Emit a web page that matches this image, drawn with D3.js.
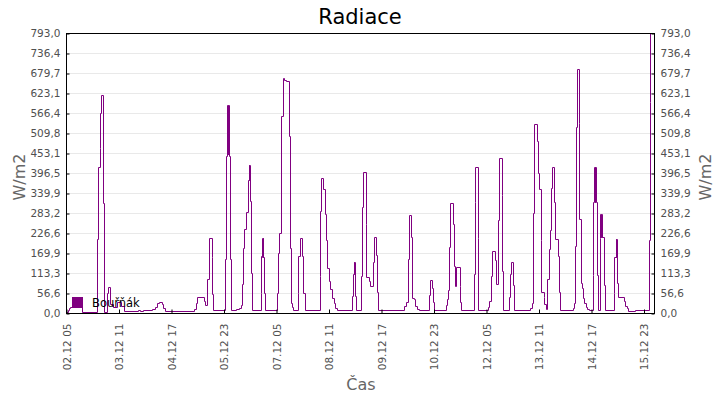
<!DOCTYPE html>
<html><head><meta charset="utf-8">
<script src="https://cdn.jsdelivr.net/npm/d3@7"></script>
<style>body{margin:0;background:#fff} svg{display:block}</style>
</head><body><svg id="c" width="720" height="400"></svg>
<script>
const title = "Radiace";
const yTitle = "W/m2";
const xTitle = "Čas";
const seriesName = "Bouřňák";
const yTickValues = [0, 56.6, 113.3, 169.9, 226.6, 283.2, 339.9, 396.5, 453.1, 509.8, 566.4, 623.1, 679.7, 736.4, 793.0];
const xTickHours = [0, 30, 60, 90, 120, 150, 180, 210, 240, 270, 300, 330];

// hours since 02.12 05:00 and radiation (W/m2), value holds until next sample
const hours = [
0,0.9,1.5,2.3,9.3,17.5,18.1,19.3,19.6,20.2,21.4,21.9,23.3,24.2,25.4,26.9,29.1,31.4,33.4,41.1,42.3,44,49.1,50.9,52,53.1,54.7,55.6,56.6,
72.9,74,74.9,79.1,79.7,80.6,81.7,83.3,83.6,84.2,91.0,91.4,92.0,92.2,92.35,92.5,92.65,92.8,92.95,93.1,93.7,94.1,
97.1,98.9,100.2,100.7,101.3,101.9,103.0,103.8,104.4,104.55,104.7,105.1,105.7,106.1,
111.3,111.4,112.0,112.15,112.3,112.45,112.6,112.75,113.3,113.9,
120.7,121.3,121.9,123.0,123.8,124.7,125.7,127.3,127.8,128.4,129.1,129.9,
132.4,132.7,133.7,135.0,135.6,136.4,
145.0,145.3,145.9,147.0,147.8,148.6,149.3,150.3,151.1,152,152.9,153.7,154.7,
163.3,163.8,164.3,164.45,164.6,164.9,165.7,
168.7,169.3,169.9,171.3,171.7,173.0,173.7,175.3,175.8,177.0,177.5,178.1,
193.1,194.0,195.3,195.8,197.0,197.5,198.9,199.6,200.6,201.9,
207.3,207.8,209.0,209.5,210.1,
217.1,217.7,218.1,218.9,219.6,221.0,221.5,222.1,223.0,225.0,225.4,225.7,
233.0,233.5,233.9,235.3,235.7,
241.1,241.9,242.9,243.6,245.0,245.5,247.0,247.6,248.9,249.3,249.9,
253.3,253.7,254.1,255.3,255.8,
265.1,266.1,267.0,267.6,269.0,269.5,270.3,271.3,271.7,272.9,273.4,274.0,
275.1,275.8,276.7,277.1,277.7,279.1,279.7,280.9,281.5,282.1,
289.5,290.3,290.9,291.3,291.8,292.9,293.4,294.0,294.7,295.3,296.0,296.9,297.7,298.9,
301.0,301.3,301.9,302.05,302.2,302.35,302.5,302.65,303.3,303.8,
304.9,305.4,305.55,305.7,305.85,306.0,306.15,307.5,308.0,
313.0,313.3,314.0,314.15,314.3,314.45,314.6,314.75,315.1,315.6,318.7,319.4,320.3,321.4,325.3,
333.1,333.5,333.9,334.3
];
const radiation = [
4,8,13,17,4,210,413,467,567,618,312,4,56,74,25,18,30,20,6,8,5,8,10,18,28,32,26,14,6,
12,28,45,35,22,95,211,160,55,8,153,444,588,450,588,450,588,450,588,444,153,8,
10,14,22,81,185,239,286,376,420,376,420,317,112,8,
56,161,211,160,211,160,211,160,56,8,
56,170,227,557,666,660,657,501,185,29,18,8,
56,161,211,161,56,8,
104,288,383,350,279,208,128,90,67,43,27,15,8,
48,111,145,111,145,48,8,
106,300,400,253,101,90,76,145,216,163,59,8,
20,32,153,277,216,43,40,19,12,8,
52,94,70,30,8,
22,40,65,186,312,253,133,76,131,76,30,8,
111,314,414,211,8,
18,33,106,176,151,83,262,439,333,118,8,
46,111,145,79,8,
15,27,282,536,487,397,352,206,59,45,25,10,
95,180,236,355,414,314,210,161,59,8,
15,27,191,526,692,539,265,85,71,43,29,18,12,8,
109,314,414,314,414,314,414,314,109,8,
213,281,216,281,216,281,216,79,8,
57,159,210,159,210,159,210,159,85,46,33,21,14,5,8,
206,597,793,793
];

const svg = d3.select("#c");
const L = 66, R = 654, T = 33, B = 313;
const start = new Date(2023, 11, 2, 5);
const toDate = h => new Date(start.getTime() + h * 3600e3);
const x = d3.scaleTime().domain([start, toDate(336)]).range([L, R]);
const y = d3.scaleLinear().domain([0, 793]).range([B, T]);
const fmtY = d => d3.format(".1f")(d).replace(".", ",");
const font = "'DejaVu Sans', sans-serif";

// gridlines
svg.append("g").selectAll("line").data(yTickValues.slice(1, -1)).join("line")
  .attr("x1", L).attr("x2", R)
  .attr("y1", d => Math.round(y(d)) + 0.5).attr("y2", d => Math.round(y(d)) + 0.5)
  .attr("stroke", "#e9e9e9").attr("stroke-width", 1);

// title
svg.append("text").attr("x", 360).attr("y", 24).attr("text-anchor", "middle")
  .style("font-family", font).style("font-size", "21px").attr("fill", "#000").text(title);

// line
const data = hours.map((h, i) => ({ t: toDate(h), v: radiation[i] }));
svg.append("clipPath").attr("id", "clip").append("rect")
  .attr("x", L).attr("y", T).attr("width", R - L + 1).attr("height", B - T + 1);
svg.append("path").datum(data)
  .attr("clip-path", "url(#clip)")
  .attr("fill", "none").attr("stroke", "#800080").attr("stroke-width", 1)
  .attr("d", d3.line().x(d => Math.round(x(d.t)) + 0.5).y(d => Math.round(y(d.v)) + 0.5).curve(d3.curveStepAfter));

// axes
function styleAxis(g) {
  g.select(".domain").remove();
  g.selectAll(".tick line").attr("stroke", "#000");
  g.selectAll("text").style("font-family", font).attr("fill", "#505050");
}
const gl = svg.append("g").attr("transform", `translate(${L + 0.5},0.5)`)
  .call(d3.axisLeft(y).tickValues(yTickValues).tickFormat(fmtY).tickSize(-3).tickPadding(6))
  .call(styleAxis);
gl.selectAll("text").style("font-size", "10.5px");
const gr = svg.append("g").attr("transform", `translate(${R + 0.5},0.5)`)
  .call(d3.axisRight(y).tickValues(yTickValues).tickFormat(fmtY).tickSize(-3).tickPadding(6))
  .call(styleAxis);
gr.selectAll("text").style("font-size", "10.5px");
const gb = svg.append("g").attr("transform", `translate(0.5,${B + 0.5})`)
  .call(d3.axisBottom(x).tickValues(xTickHours.map(toDate)).tickFormat(d3.timeFormat("%d.%m %H")).tickSize(-4))
  .call(styleAxis);
gb.selectAll("text").style("font-size", "10.5px")
  .attr("transform", "rotate(-90)").attr("x", -10).attr("y", 0).attr("dy", "0.35em")
  .style("text-anchor", "end");

// frame
svg.append("rect").attr("x", L + 0.5).attr("y", T + 0.5).attr("width", R - L).attr("height", B - T)
  .attr("fill", "none").attr("stroke", "#000").attr("stroke-width", 1);

// axis titles
svg.append("text").attr("transform", `translate(25,177) rotate(-90)`).attr("text-anchor", "middle")
  .style("font-family", font).style("font-size", "16px").attr("fill", "#666").text(yTitle);
svg.append("text").attr("transform", `translate(711,177) rotate(-90)`).attr("text-anchor", "middle")
  .style("font-family", font).style("font-size", "16px").attr("fill", "#666").text(yTitle);
svg.append("text").attr("x", 361).attr("y", 390).attr("text-anchor", "middle")
  .style("font-family", font).style("font-size", "16px").attr("fill", "#666").text(xTitle);

// legend
svg.append("rect").attr("x", 72).attr("y", 297).attr("width", 11).attr("height", 11).attr("fill", "#800080");
svg.append("text").attr("x", 92).attr("y", 307).style("font-family", font).style("font-size", "11.5px")
  .attr("fill", "#000").text(seriesName);
</script></body></html>
